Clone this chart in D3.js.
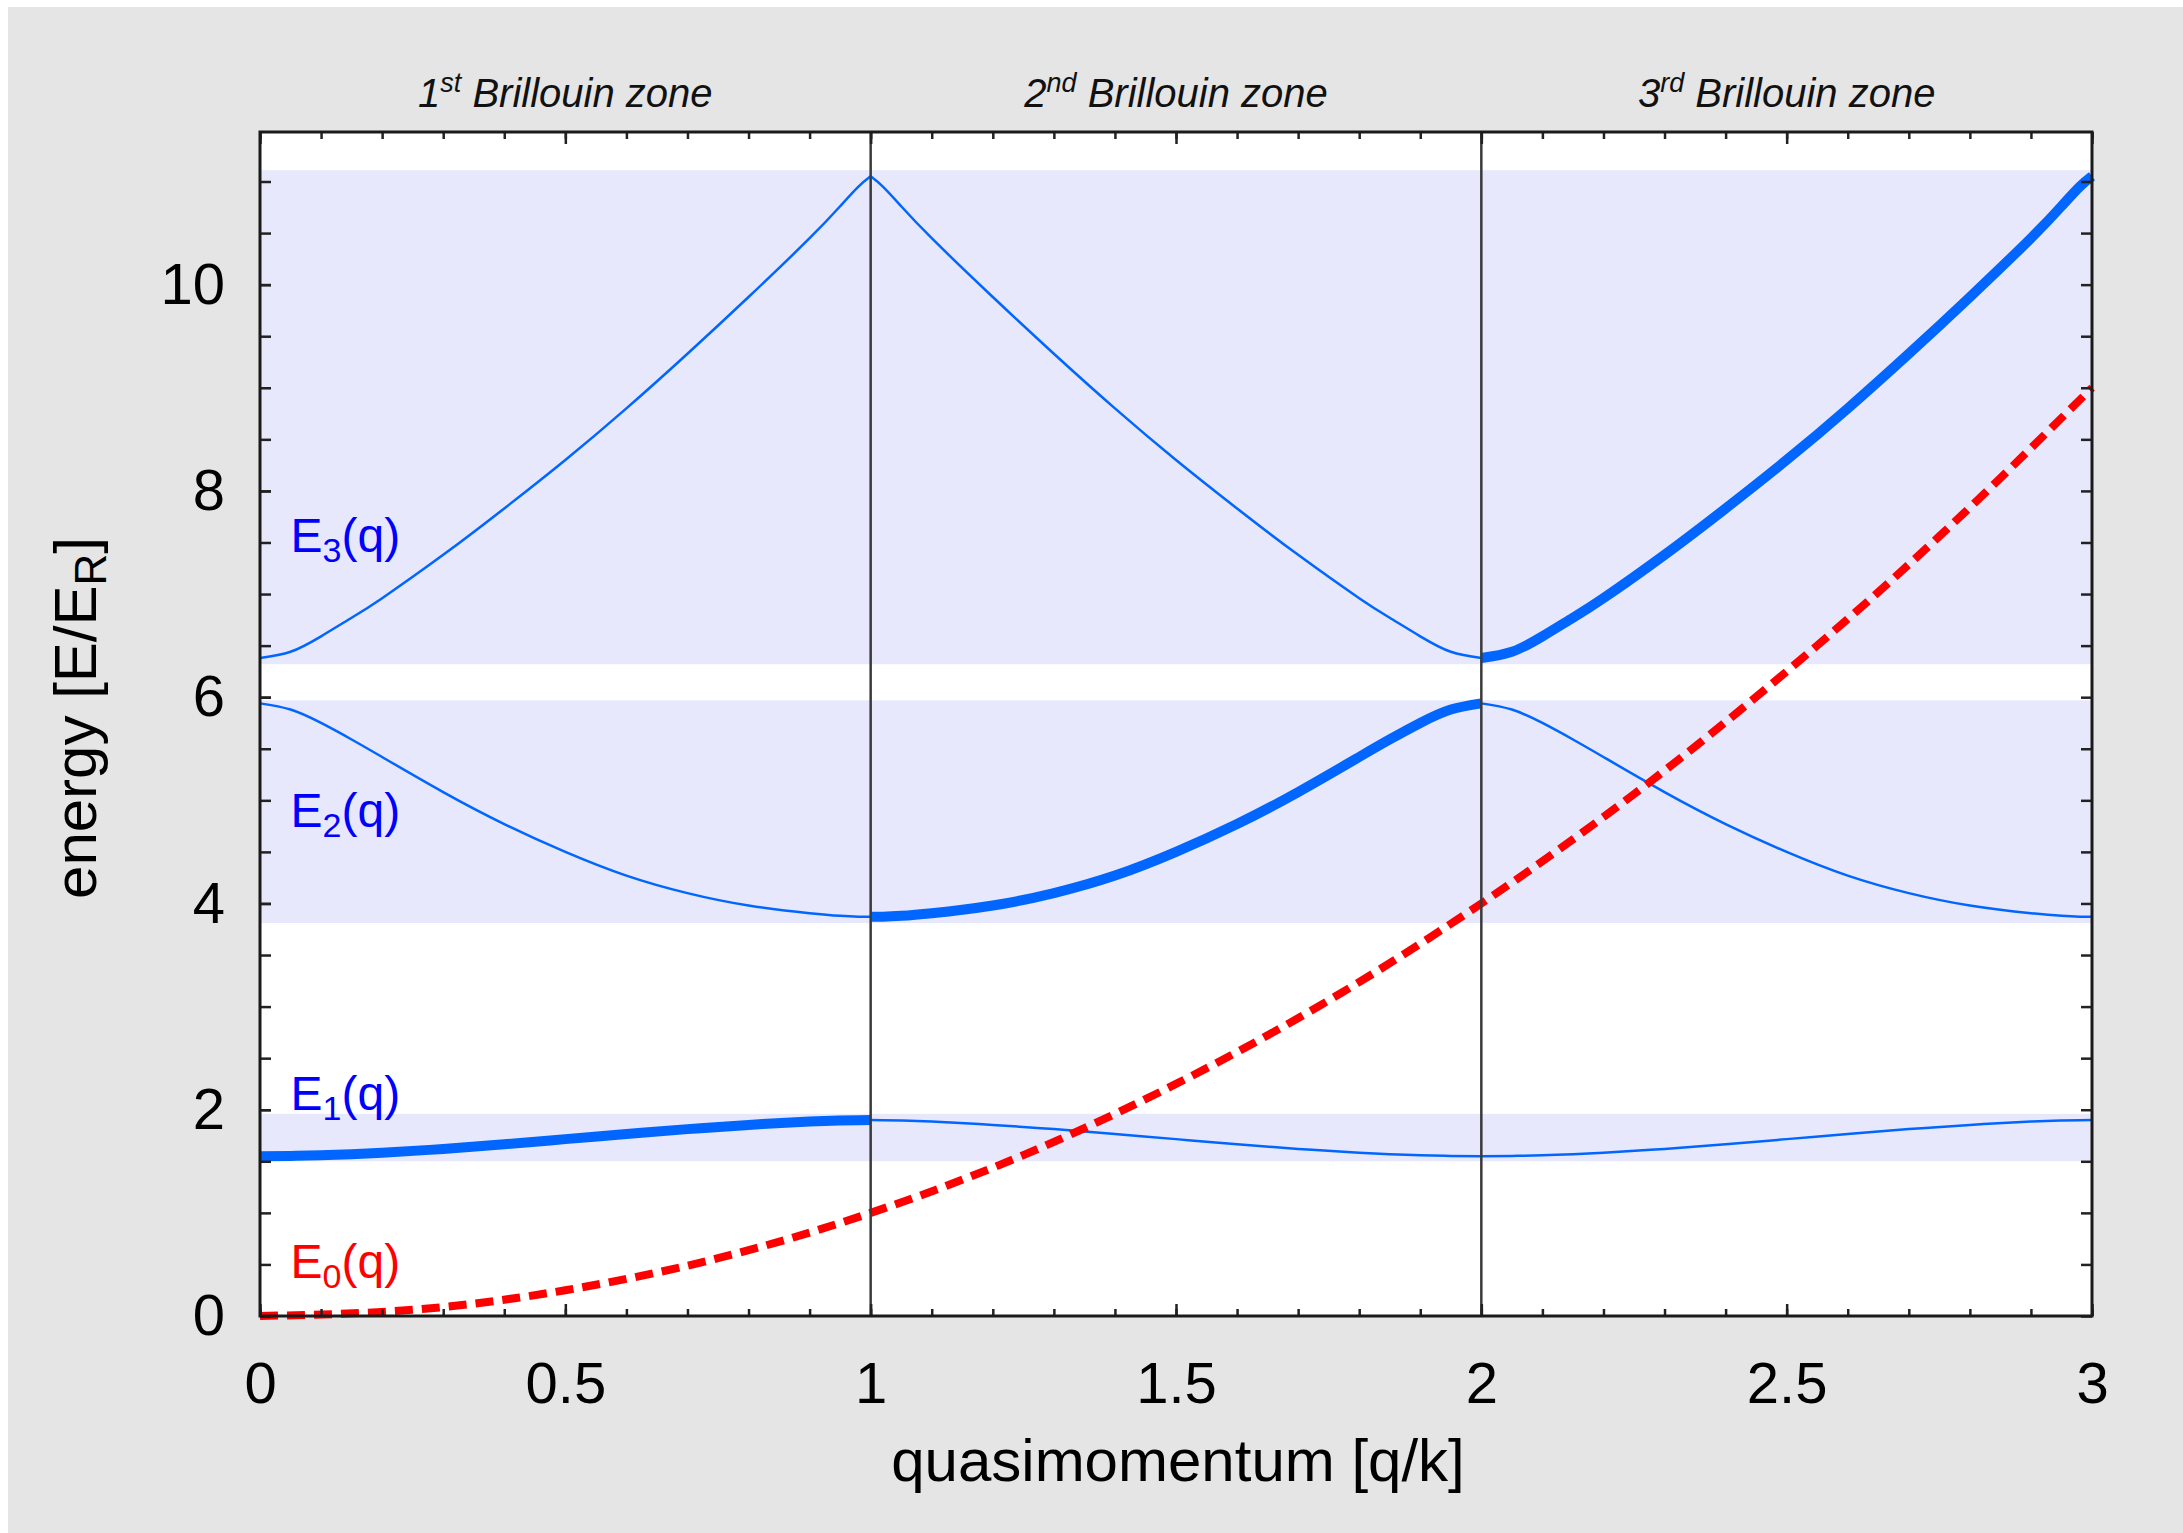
<!DOCTYPE html>
<head>
    <meta charset="utf-8"/>
    <script src="https://d3js.org/d3.v7.min.js"></script>
    <style>
        body {
            margin: 0;
            background: #fff;
        }
        text {
            font-family: "Liberation Sans", Arial, Helvetica, sans-serif;
        }
    </style>
</head>

<body>
<script>
    // quasimomentum samples inside one zone (reduced zone, q/k from 0 to 1)
    var qZone = [0, 0.05, 0.1, 0.15, 0.2, 0.3, 0.4, 0.5, 0.6, 0.7, 0.8, 0.9, 0.95, 0.98, 1];
    // band energies, E/E_R
    var band1 = [1.55, 1.552, 1.558, 1.568, 1.582, 1.62, 1.665, 1.715, 1.765, 1.812, 1.853, 1.885, 1.895, 1.899, 1.90];
    var band2 = [5.94, 5.88, 5.75, 5.59, 5.42, 5.08, 4.77, 4.50, 4.27, 4.10, 3.98, 3.905, 3.88, 3.872, 3.87];
    var band3 = [6.38, 6.44, 6.59, 6.77, 6.96, 7.38, 7.83, 8.30, 8.80, 9.33, 9.88, 10.45, 10.76, 10.95, 11.05];

    // free particle, red dashed
    var freeQ = [0, 0.25, 0.5, 0.75, 1, 1.25, 1.5, 1.75, 2, 2.25, 2.5, 2.75, 3];
    var freeE = [0, 0.06, 0.25, 0.56, 1, 1.56, 2.25, 3.06, 4, 5.06, 6.25, 7.56, 9];

    // shaded allowed bands [bottom, top]
    var bandRanges = [[1.50, 1.96], [3.81, 5.97], [6.32, 11.11]];

    var zoneNum = ["1", "2", "3"];
    var zoneSup = ["st", "nd", "rd"];

    var labelIdx = ["0", "1", "2", "3"];
    var labelE = [0.37, 2.0, 4.74, 7.41];

    var xMajor = [0, 0.5, 1, 1.5, 2, 2.5, 3];
    var yMajor = [0, 2, 4, 6, 8, 10];

    var width = 2183,
        height = 1533;

    var svg = d3.select("body").append("svg")
        .attr("width", width)
        .attr("height", height);

    var x = d3.scaleLinear().domain([0, 3]).range([260, 2092]);
    var y = d3.scaleLinear().domain([0, 11.48]).range([1316, 132]);

    // grey page
    svg.append("rect").attr("x", 8).attr("y", 7)
        .attr("width", width - 8).attr("height", height - 7)
        .attr("fill", "#e5e5e5");

    svg.append("rect")
        .attr("x", x(0)).attr("y", y(11.48))
        .attr("width", x(3) - x(0)).attr("height", y(0) - y(11.48))
        .attr("fill", "#fff");

    svg.selectAll(".band")
        .data(bandRanges)
        .join("rect")
        .attr("class", "band")
        .attr("x", x(0))
        .attr("width", x(3) - x(0))
        .attr("y", function (d) { return y(d[1]); })
        .attr("height", function (d) { return y(d[0]) - y(d[1]); })
        .attr("fill", "#e8e8fc");

    var line = d3.line()
        .x(function (d) { return x(d[0]); })
        .y(function (d) { return y(d[1]); })
        .curve(d3.curveNatural);

    // unfold a reduced-zone band into zone z (0,1,2)
    function unfold(vals, z) {
        var pts = qZone.map(function (q, i) {
            var qa = (z % 2 == 1) ? z + 1 - q : z + q;
            return [qa, vals[i]];
        });
        return pts.sort(function (a, b) { return a[0] - b[0]; });
    }

    var bands = [band1, band2, band3];
    var thin = [], thick = [];
    bands.forEach(function (b, i) {
        for (var z = 0; z < 3; z++) {
            if (z == i) thick.push(unfold(b, z));
            else thin.push(unfold(b, z));
        }
    });

    svg.selectAll(".thin")
        .data(thin)
        .join("path")
        .attr("class", "thin")
        .attr("d", line)
        .attr("fill", "none")
        .attr("stroke", "#0066ff")
        .attr("stroke-width", 2.5);

    svg.selectAll(".thick")
        .data(thick)
        .join("path")
        .attr("class", "thick")
        .attr("d", line)
        .attr("fill", "none")
        .attr("stroke", "#0066ff")
        .attr("stroke-width", 10)
        .attr("stroke-linejoin", "round");

    svg.append("path")
        .datum(freeQ.map(function (q, i) { return [q, freeE[i]]; }))
        .attr("d", line)
        .attr("fill", "none")
        .attr("stroke", "#ff0000")
        .attr("stroke-width", 8)
        .attr("stroke-dasharray", "18,9");

    // band labels E_n(q)
    var lab = svg.selectAll(".lab")
        .data(labelIdx)
        .join("text")
        .attr("class", "lab")
        .attr("x", x(0.05))
        .attr("y", function (d, i) { return y(labelE[i]); })
        .attr("font-size", 48)
        .attr("fill", function (d) { return d == "0" ? "#ff0000" : "#0000ff"; });
    lab.append("tspan").text("E");
    lab.append("tspan").attr("dy", 10).attr("font-size", 34).text(function (d) { return d; });
    lab.append("tspan").attr("dy", -10).text("(q)");

    // zone boundaries
    svg.selectAll(".zl")
        .data([1, 2])
        .join("line")
        .attr("class", "zl")
        .attr("x1", function (d) { return x(d); })
        .attr("x2", function (d) { return x(d); })
        .attr("y1", y(11.48))
        .attr("y2", y(0))
        .attr("stroke", "#3a3a3a")
        .attr("stroke-width", 2.5);

    // ticks on all four sides, pointing inward
    var xMinor = d3.range(0, 31).map(function (i) { return i / 10; });
    var yMinor = d3.range(0, 23).map(function (i) { return i / 2; });

    function styleAxis(g) {
        g.select(".domain").remove();
        g.selectAll("line").attr("stroke", "#222").attr("stroke-width", 2.5);
        g.selectAll("text").attr("font-size", 58).attr("fill", "#000")
            .attr("font-family", "'Liberation Sans', Arial, sans-serif");
    }

    svg.append("g").attr("transform", "translate(0," + y(0) + ")")
        .call(d3.axisBottom(x).tickValues(xMinor).tickSize(-7).tickFormat(""))
        .call(styleAxis);
    svg.append("g").attr("transform", "translate(0," + y(0) + ")")
        .call(d3.axisBottom(x).tickValues(xMajor).tickSize(-12).tickPadding(46).tickFormat(d3.format("")))
        .call(styleAxis);
    svg.append("g").attr("transform", "translate(0," + y(11.48) + ")")
        .call(d3.axisTop(x).tickValues(xMinor).tickSize(-7).tickFormat(""))
        .call(styleAxis);
    svg.append("g").attr("transform", "translate(0," + y(11.48) + ")")
        .call(d3.axisTop(x).tickValues(xMajor).tickSize(-12).tickFormat(""))
        .call(styleAxis);

    svg.append("g").attr("transform", "translate(" + x(0) + ",0)")
        .call(d3.axisLeft(y).tickValues(yMinor).tickSize(-11).tickFormat(""))
        .call(styleAxis);
    svg.append("g").attr("transform", "translate(" + x(0) + ",0)")
        .call(d3.axisLeft(y).tickValues(yMajor).tickSize(-11).tickPadding(35).tickFormat(d3.format("d")))
        .call(styleAxis);
    svg.append("g").attr("transform", "translate(" + x(3) + ",0)")
        .call(d3.axisRight(y).tickValues(yMinor).tickSize(-11).tickFormat(""))
        .call(styleAxis);

    // frame
    svg.append("rect")
        .attr("x", x(0)).attr("y", y(11.48))
        .attr("width", x(3) - x(0)).attr("height", y(0) - y(11.48))
        .attr("fill", "none")
        .attr("stroke", "#1a1a1a")
        .attr("stroke-width", 3);

    // zone titles
    var zt = svg.selectAll(".zt")
        .data(zoneNum)
        .join("text")
        .attr("class", "zt")
        .attr("x", function (d, i) { return x(i + 0.5); })
        .attr("y", 107)
        .attr("text-anchor", "middle")
        .attr("font-size", 40)
        .attr("font-style", "italic")
        .attr("fill", "#111");
    zt.append("tspan").text(function (d) { return d; });
    zt.append("tspan").attr("dy", -15).attr("font-size", 27).text(function (d, i) { return zoneSup[i]; });
    zt.append("tspan").attr("dy", 15).text(" Brillouin zone");

    // axis titles
    svg.append("text")
        .attr("x", x(1.5) + 2)
        .attr("y", 1481)
        .attr("text-anchor", "middle")
        .attr("font-size", 60)
        .text("quasimomentum [q/k]");

    var yt = svg.append("text")
        .attr("transform", "translate(96,718) rotate(-90)")
        .attr("text-anchor", "middle")
        .attr("font-size", 60);
    yt.append("tspan").text("energy [E/E");
    yt.append("tspan").attr("dy", 10).attr("font-size", 44).text("R");
    yt.append("tspan").attr("dy", -10).text("]");
</script>
</body>
